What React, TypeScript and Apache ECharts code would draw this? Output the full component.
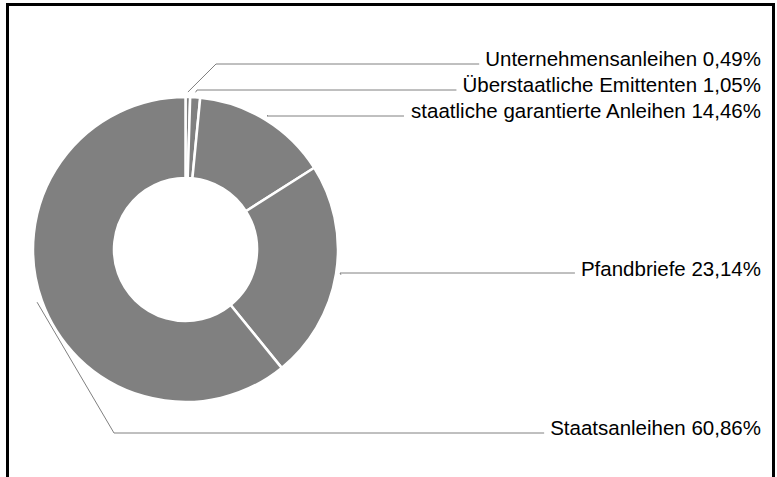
import React, { useEffect, useRef } from 'react';
import * as echarts from 'echarts';

const categories = [
  'Unternehmensanleihen',
  'Überstaatliche Emittenten',
  'staatliche garantierte Anleihen',
  'Pfandbriefe',
  'Staatsanleihen',
];
const shares = [0.49, 1.05, 14.46, 23.14, 60.86];

// annotation placement for the outside labels (Excel-style, all on the right)
const labelCenterY = [58, 84, 110, 268, 427];
const leaderY = [64, 90, 116, 273, 433];
const leaderElbowX = [216, 197, 267, 340, 114];

const fmt = (v: number) => v.toFixed(2).replace('.', ',') + '%';

export default function App() {
  const ref = useRef<HTMLDivElement>(null);
  useEffect(() => {
    const chart = echarts.init(ref.current!, null, { renderer: 'svg' });
    const cx = 185.5, cy = 249.5, r0 = 71.5, r = 152.5;
    const total = shares.reduce((a, b) => a + b, 0);
    const labelRight = 761;
    const cum: number[] = [];
    shares.reduce((acc, v, i) => { cum[i] = acc; return acc + v; }, 0);
    chart.setOption({
      animation: false,
      graphic: [{
        type: 'rect',
        silent: true,
        z: 10,
        shape: { x: 7.5, y: 4.5, width: 766, height: 600 },
        style: { fill: 'none', stroke: '#000', lineWidth: 3 },
      }],
      series: [{
        type: 'pie',
        center: [cx, cy],
        radius: [r0, r],
        startAngle: 90,
        clockwise: true,
        avoidLabelOverlap: false,
        data: categories.map((n, i) => ({ name: n, value: shares[i] })),
        itemStyle: { color: '#808080', borderColor: '#ffffff', borderWidth: 2.5 },
        label: {
          show: true,
          position: 'outside',
          formatter: (p: any) => `${p.name} ${fmt(p.value)}`,
          color: '#000',
          fontSize: 20.5,
          fontFamily: 'Liberation Sans, Arial, sans-serif',
        },
        labelLine: { show: true, lineStyle: { color: '#808080', width: 1 } },
        emphasis: { disabled: true },
        labelLayout: (params: any) => {
          const i = params.dataIndex;
          const mid = ((cum[i] + shares[i] / 2) / total) * Math.PI * 2;
          const R = r + 5;
          const ex = cx + R * Math.sin(mid);
          const ey = cy - R * Math.cos(mid);
          const w = params.labelRect.width;
          return {
            x: labelRight,
            y: labelCenterY[i],
            align: 'right',
            verticalAlign: 'middle',
            labelLinePoints: [
              [ex, ey],
              [leaderElbowX[i], leaderY[i]],
              [labelRight - w - 6, leaderY[i]],
            ],
          };
        },
      }],
    });
    return () => chart.dispose();
  }, []);
  return (
    <div style={{ position: 'fixed', left: 0, top: 0, width: 777, height: 477, background: '#fff' }}>
      <div ref={ref} style={{ width: 777, height: 477 }} />
    </div>
  );
}
